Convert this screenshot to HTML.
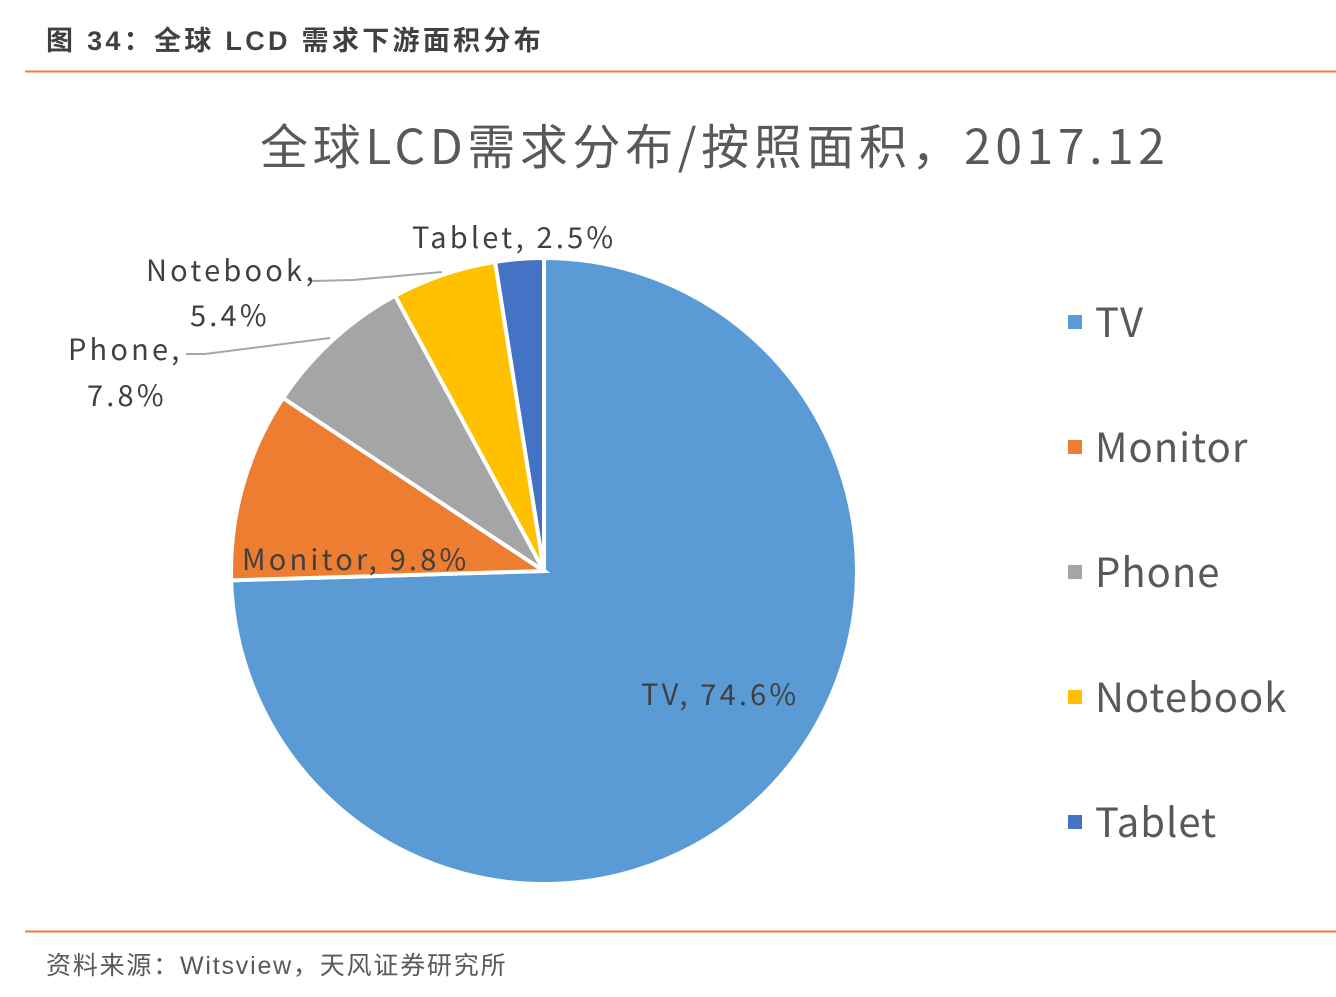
<!DOCTYPE html>
<html><head><meta charset="utf-8"><style>
body{margin:0;width:1336px;height:992px;background:#fff;overflow:hidden;font-family:"Liberation Sans","Noto Sans CJK SC",sans-serif;}
</style></head><body>
<svg width="1336" height="992" xmlns="http://www.w3.org/2000/svg">
<text x="46" y="50" font-size="27" font-weight="bold" fill="#404040" letter-spacing="3.3" font-family="Liberation Sans,Noto Sans CJK SC,sans-serif">图 34：全球 LCD 需求下游面积分布</text>
<line x1="25" y1="71.5" x2="1336" y2="71.5" stroke="#ED7D31" stroke-width="2"/>
<text x="260" y="164" font-size="48" fill="#595959" letter-spacing="4.6" font-family="Noto Sans CJK SC,sans-serif">全球LCD需求分布/按照面积，2017.12</text>
<g id="pie"></g>
<g id="labels" font-family="Noto Sans CJK SC,sans-serif" font-size="29" fill="#404040" letter-spacing="3.2">
<text x="412" y="248">Tablet, 2.5%</text>
<text x="146" y="281">Notebook,</text>
<text x="190" y="326">5.4%</text>
<text x="68" y="360">Phone,</text>
<text x="87" y="406">7.8%</text>
<text x="242" y="570">Monitor, 9.8%</text>
<text x="641" y="705">TV, 74.6%</text>
<polyline points="312,281 353,280 442,272" fill="none" stroke="#A6A6A6" stroke-width="2"/>
<polyline points="186,354 205,354 330,338" fill="none" stroke="#A6A6A6" stroke-width="2"/>
</g>
<g id="legend" font-family="Noto Sans CJK SC,sans-serif" font-size="40" fill="#595959" letter-spacing="1"></g>
<line x1="25" y1="931.5" x2="1336" y2="931.5" stroke="#ED7D31" stroke-width="2"/>
<text x="46" y="974" font-size="25" fill="#595959" letter-spacing="1.8" font-family="Liberation Sans,Noto Sans CJK SC,sans-serif">资料来源：Witsview，天风证券研究所</text>
</svg>
<script>
const categories=["TV","Monitor","Phone","Notebook","Tablet"];
const values=[74.6,9.8,7.8,5.4,2.5];
const colors=["#5B9BD5","#ED7D31","#A5A5A5","#FFC000","#4472C4"];
const NS="http://www.w3.org/2000/svg";
const cx=544,cy=571,r=313;
const total=values.reduce((a,b)=>a+b,0);
function pt(a){return [cx+r*Math.sin(a),cy-r*Math.cos(a)];}
let acc=0;const pie=document.getElementById('pie');
values.forEach((v,i)=>{
 const a0=acc/total*2*Math.PI;acc+=v;const a1=acc/total*2*Math.PI;
 const p0=pt(a0),p1=pt(a1);const large=(a1-a0)>Math.PI?1:0;
 const p=document.createElementNS(NS,'path');
 p.setAttribute('d',`M${cx},${cy}L${p0[0]},${p0[1]}A${r},${r} 0 ${large} 1 ${p1[0]},${p1[1]}Z`);
 p.setAttribute('fill',colors[i]);p.setAttribute('stroke','#fff');p.setAttribute('stroke-width','4');
 
 
 pie.appendChild(p);
});
const lg=document.getElementById('legend');
categories.forEach((c,i)=>{
 const y=323+i*125;
 const g=document.createElementNS(NS,'g');
 
 
 const s=document.createElementNS(NS,'rect');
 s.setAttribute('x',1068);s.setAttribute('y',y-8);s.setAttribute('width',14);s.setAttribute('height',14);s.setAttribute('fill',colors[i]);
 const t=document.createElementNS(NS,'text');
 t.setAttribute('x',1095);t.setAttribute('y',y+14);t.textContent=c;
 g.appendChild(s);g.appendChild(t);lg.appendChild(g);
});
</script>
</body></html>
